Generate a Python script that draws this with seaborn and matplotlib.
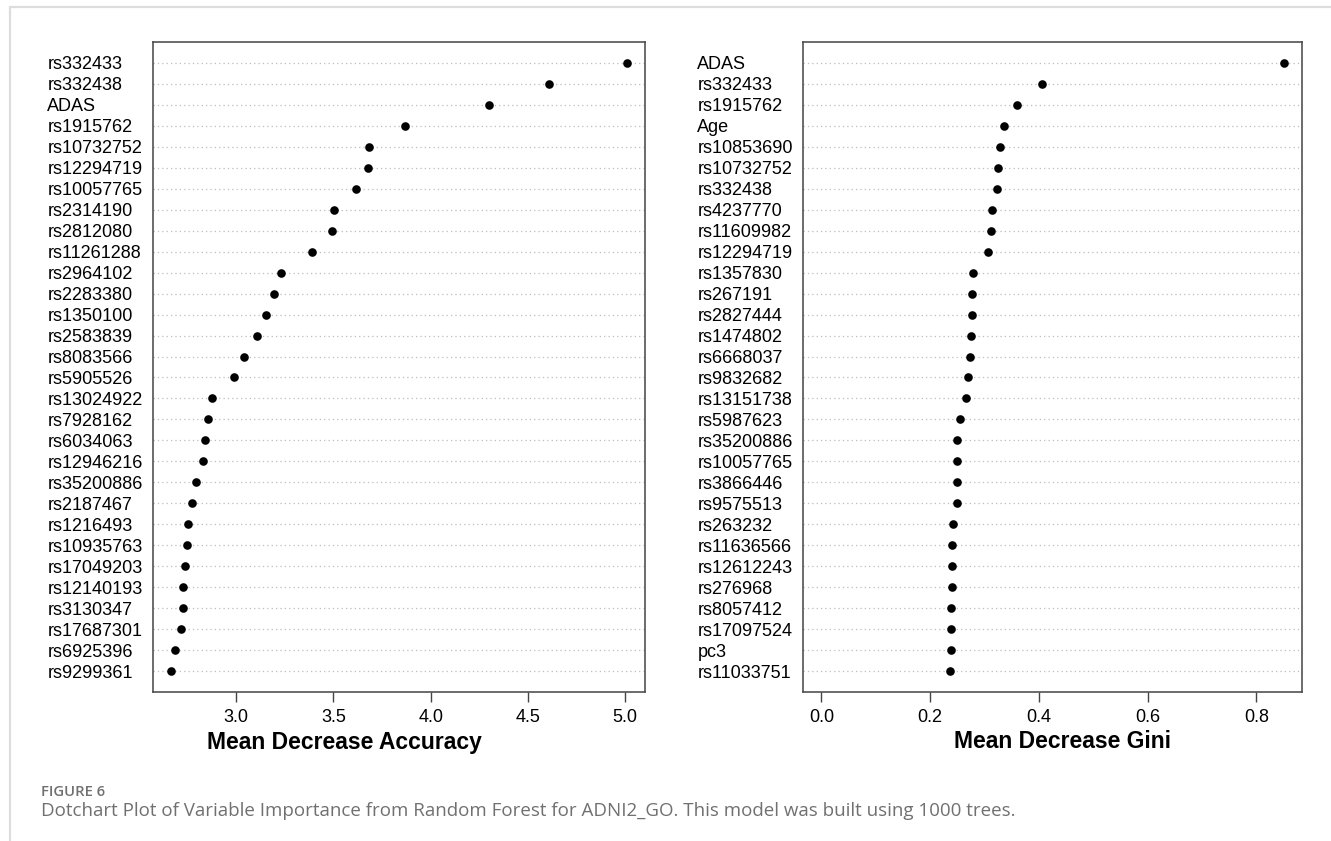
import numpy as np
import matplotlib.pyplot as plt
from matplotlib.lines import Line2D
import pandas as pd
import seaborn as sns

# ------------------------------
# Data: variable importance
# ------------------------------
acc_vars = ["rs332433", "rs332438", "ADAS", "rs1915762", "rs10732752", "rs12294719",
            "rs10057765", "rs2314190", "rs2812080", "rs11261288", "rs2964102", "rs2283380",
            "rs1350100", "rs2583839", "rs8083566", "rs5905526", "rs13024922", "rs7928162",
            "rs6034063", "rs12946216", "rs35200886", "rs2187467", "rs1216493", "rs10935763",
            "rs17049203", "rs12140193", "rs3130347", "rs17687301", "rs6925396", "rs9299361"]
acc_vals = [5.008, 4.606, 4.298, 3.866, 3.683, 3.677, 3.616, 3.502, 3.491, 3.390,
            3.228, 3.192, 3.152, 3.107, 3.039, 2.988, 2.876, 2.857, 2.840, 2.827,
            2.792, 2.771, 2.751, 2.747, 2.737, 2.728, 2.727, 2.714, 2.683, 2.666]

gini_vars = ["ADAS", "rs332433", "rs1915762", "Age", "rs10853690", "rs10732752",
             "rs332438", "rs4237770", "rs11609982", "rs12294719", "rs1357830", "rs267191",
             "rs2827444", "rs1474802", "rs6668037", "rs9832682", "rs13151738", "rs5987623",
             "rs35200886", "rs10057765", "rs3866446", "rs9575513", "rs263232", "rs11636566",
             "rs12612243", "rs276968", "rs8057412", "rs17097524", "pc3", "rs11033751"]
gini_vals = [0.850, 0.406, 0.360, 0.335, 0.328, 0.325, 0.323, 0.313, 0.312, 0.306,
             0.279, 0.277, 0.276, 0.275, 0.274, 0.269, 0.266, 0.254, 0.250, 0.249,
             0.249, 0.249, 0.242, 0.241, 0.241, 0.240, 0.239, 0.238, 0.238, 0.237]

acc_ticks = [3.0, 3.5, 4.0, 4.5, 5.0]
gini_ticks = [0.0, 0.2, 0.4, 0.6, 0.8]

# ------------------------------
# Style
# ------------------------------
sns.set_theme(style="white")
plt.rcParams['font.family'] = ['Liberation Sans', 'DejaVu Sans']

W, H = 1331, 841
fig = plt.figure(figsize=(W / 100, H / 100), dpi=100)


def px_axes(x0, x1, y0, y1):
    # axes box from pixel coordinates (top-left origin)
    return fig.add_axes([x0 / W, 1 - y1 / H, (x1 - x0) / W, (y1 - y0) / H])


def dotchart(ax, names, vals, xmin, ticks, xlabel, label_x):
    df = pd.DataFrame({"var": names, "val": vals})
    sns.stripplot(data=df, x="val", y="var", jitter=False, color="black",
                  size=6.2, linewidth=0, ax=ax, zorder=3)
    n = len(names)
    # R dotchart style range: extend by 4%
    lo, hi = xmin, max(vals)
    ext = 0.04 * (hi - lo)
    ax.set_xlim(lo - ext, hi + ext)
    ax.set_ylim(n, -1)
    ax.set_xticks(ticks)
    ax.set_xticklabels([f"{t:.1f}" for t in ticks])
    ax.grid(axis="y", linestyle=(0, (1, 2.5)), color="#bdbdbd", linewidth=0.9)
    ax.grid(axis="x", visible=False)
    ax.tick_params(axis="y", length=0, pad=76, labelsize=13, labelcolor="black")
    for lab in ax.get_yticklabels():
        lab.set_horizontalalignment("left")
    ax.tick_params(axis="x", length=7.5, width=1.0, color="#444444", pad=5,
                   labelsize=13, labelcolor="black", bottom=True)
    for sp in ax.spines.values():
        sp.set_color("#444444")
        sp.set_linewidth(1.1)
        sp.set_visible(True)
    ax.set_ylabel("")
    ax.set_xlabel(xlabel, fontsize=16.5, fontweight="bold", color="black")
    ax.xaxis.label.set_va("center")
    ax.xaxis.set_label_coords(label_x, -50 / 650)


ax1 = px_axes(153, 645, 42, 692)
dotchart(ax1, acc_vars, acc_vals, min(acc_vals), acc_ticks,
         "Mean Decrease Accuracy", (344 - 153) / 492)

ax2 = px_axes(803, 1302, 42, 692)
dotchart(ax2, gini_vars, gini_vals, 0.0, gini_ticks,
         "Mean Decrease Gini", (1062 - 803) / 499)

# page frame lines (top and left)
fig.add_artist(Line2D([9.5 / W, 1], [1 - 7 / H, 1 - 7 / H], color="#dddddd", linewidth=1.6))
fig.add_artist(Line2D([9.5 / W, 9.5 / W], [0, 1 - 7 / H], color="#dddddd", linewidth=1.6))

# caption
fig.text(41 / W, 1 - 792 / H, "FIGURE 6", fontsize=10.7, fontweight="semibold",
         color="#707070", family=["Open Sans", "DejaVu Sans"], va="center", ha="left")
fig.text(41 / W, 1 - 811 / H,
         "Dotchart Plot of Variable Importance from Random Forest for ADNI2_GO. "
         "This model was built using 1000 trees.",
         fontsize=13.5, color="#707070", family=["Open Sans", "DejaVu Sans"],
         va="center", ha="left")

fig.savefig("out.png", dpi=100)
